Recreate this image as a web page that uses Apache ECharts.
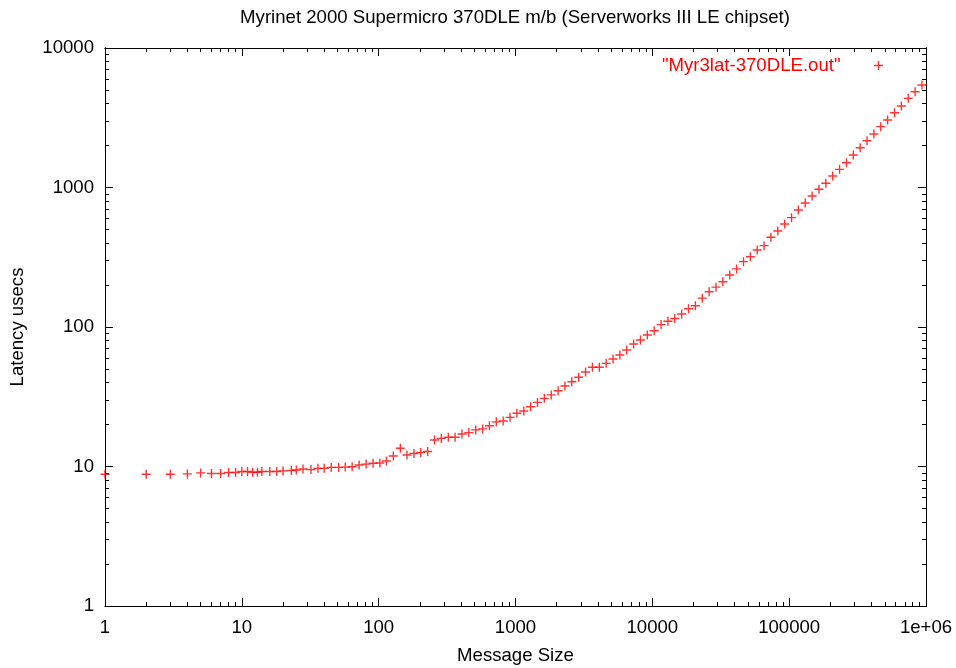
<!DOCTYPE html>
<html>
<head>
<meta charset="utf-8">
<script src="https://cdn.jsdelivr.net/npm/echarts@6/dist/echarts.min.js"></script>
<style>
html,body{margin:0;padding:0;background:#fff;}
#chart{width:956px;height:668px;}
</style>
</head>
<body>
<div id="chart"></div>
<script>
// Message sizes (bytes)
const sizes = [1,2,3,4,5,6,7,8,9,10,11,12,13,14,16,18,20,23,25,28,32,36,40,45,51,57,64,72,81,91,102,114,128,144,161,181,203,228,256,
287,323,362,406,456,512,575,645,724,813,912,1024,
1149,1290,1448,1625,1825,2048,2299,2580,2896,3251,3649,4096,
4598,5161,5793,6502,7298,8192,9195,10321,11585,13004,14596,16384,
18390,20643,23170,26008,29193,32768,36781,41285,46341,52016,58386,65536,
73562,82570,92682,104032,116772,131072,147123,165140,185364,208064,233543,262144,
294247,330281,370728,416128,467087,524288,588493,660561,741455,832255,934175];
// Latency (usecs)
const latency = [8.8,8.8,8.8,8.85,9.0,8.9,8.9,9.05,9.05,9.2,9.2,9.1,9.1,9.2,9.2,9.2,9.3,9.35,9.45,9.6,9.5,9.7,9.7,9.85,9.85,9.9,9.95,10.25,10.4,10.55,10.6,10.95,11.9,13.5,12.1,12.4,12.6,12.8,15.5,
15.9,16.2,16.2,17.1,17.5,18.3,18.6,19.6,20.9,21.2,22.5,24.1,
25,26.8,28.8,30.8,32.6,34.9,37.8,40.5,43.6,47.6,51.4,51.4,
54.9,59,63,68.4,75.5,80.7,87.7,94.1,104,110,115,124,
135,142,161,179,193,211,236,261,294,319,356,383,
440,488,547,608,690,774,869,971,1072,1209,1349,1506,
1710,1929,2166,2420,2731,3047,3437,3838,4355,4862,5430];

const xTickLabels = [1,10,100,1000,10000,100000,1000000];
const yTickLabels = [1,10,100,1000,10000];
const seriesName = '"Myr3lat-370DLE.out"';
const titleText = 'Myrinet 2000 Supermicro 370DLE m/b (Serverworks III LE chipset)';
const xName = 'Message Size';
const yName = 'Latency usecs';

function minorsOf(majors){
  const out = [];
  for (let i = 0; i < majors.length - 1; i++) {
    for (let k = 2; k <= 9; k++) out.push(majors[i] * k);
  }
  return out;
}
const xMinor = minorsOf(xTickLabels);
const yMinor = minorsOf(yTickLabels);

const FONT = 'Liberation Sans, Arial, Helvetica, sans-serif';
const FS = 18.6;
const PLUS = 'path://M0,3.8H9V5.2H0Z M3.8,0H5.2V9H3.8Z';

function fmt(v){
  if (v >= 1e6 - 1) return '1e+06';
  return String(Math.round(v));
}

function axis(dim, pos, ticks, len, showLabel, extra){
  const isX = dim === 'x';
  return Object.assign({
    type: 'log', logBase: 10,
    min: 1, max: isX ? 1e6 : 1e4,
    position: pos,
    axisLine: {show: true, onZero: false, lineStyle: {color: '#000', width: 1}},
    axisTick: {show: true, inside: true, length: len, customValues: ticks, lineStyle: {color: '#000', width: 1}},
    axisLabel: {show: showLabel, customValues: isX ? xTickLabels : yTickLabels, formatter: fmt,
      color: '#000', fontSize: FS, fontFamily: FONT, margin: isX ? 12 : 11},
    splitLine: {show: false},
    minorTick: {show: false},
    minorSplitLine: {show: false}
  }, extra || {});
}

const chart = echarts.init(document.getElementById('chart'), null, {renderer: 'canvas'});
chart.setOption({
  backgroundColor: '#fff',
  animation: false,
  grid: {left: 105, right: 30, top: 48, bottom: 62, containLabel: false, outerBoundsMode: 'none'},
  graphic: [{
    type: 'text', x: 515, y: 18,
    style: {text: titleText, fill: '#000', font: FS + 'px ' + FONT, textAlign: 'center', textVerticalAlign: 'middle'}
  }],
  legend: {
    data: [{name: seriesName, icon: PLUS}],
    align: 'right',
    right: 73, top: 56,
    padding: 0,
    itemWidth: 66, itemHeight: 9,
    textStyle: {color: '#ff0000', fontSize: FS, fontFamily: FONT},
    selectedMode: false
  },
  xAxis: [
    axis('x', 'bottom', xTickLabels, 8, true, {name: xName, nameLocation: 'middle', nameGap: 40,
      nameTextStyle: {color: '#000', fontSize: FS, fontFamily: FONT}}),
    axis('x', 'bottom', xMinor, 4, false),
    axis('x', 'top', xTickLabels, 8, false),
    axis('x', 'top', xMinor, 4, false)
  ],
  yAxis: [
    axis('y', 'left', yTickLabels, 8, true, {name: yName, nameLocation: 'middle', nameGap: 78, nameRotate: 90,
      nameTextStyle: {color: '#000', fontSize: FS, fontFamily: FONT}}),
    axis('y', 'left', yMinor, 4, false),
    axis('y', 'right', yTickLabels, 8, false),
    axis('y', 'right', yMinor, 4, false)
  ],
  series: [{
    name: seriesName,
    type: 'scatter',
    xAxisIndex: 0, yAxisIndex: 0,
    symbol: PLUS,
    symbolSize: 9,
    clip: false,
    itemStyle: {color: '#ff0000'},
    data: sizes.map((s, i) => [s, latency[i]])
  }]
});
</script>
</body>
</html>
